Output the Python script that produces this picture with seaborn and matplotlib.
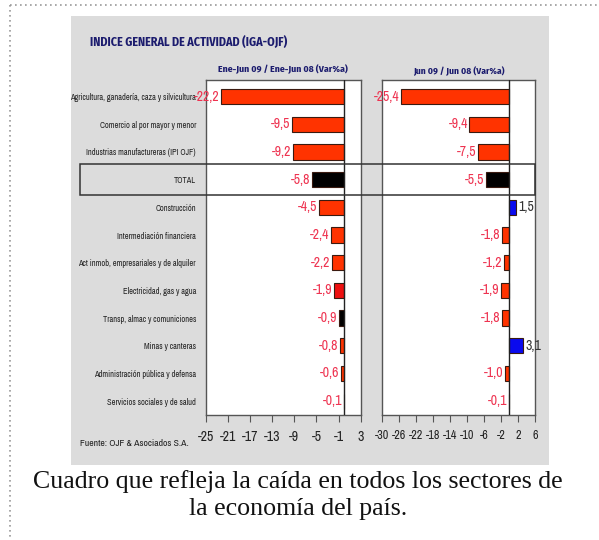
import matplotlib
matplotlib.use("Agg")
import matplotlib.pyplot as plt
import matplotlib.transforms as mtransforms
from matplotlib.patches import Rectangle
from matplotlib.lines import Line2D
import seaborn as sns
import pandas as pd

categories = [
    "Agricultura, ganadería, caza y silvicultura",
    "Comercio al por mayor y menor",
    "Industrias manufactureras (IPI OJF)",
    "TOTAL",
    "Construcción",
    "Intermediación financiera",
    "Act inmob, empresariales y de alquiler",
    "Electricidad, gas y agua",
    "Transp, almac y comuniciones",
    "Minas y canteras",
    "Administración pública y defensa",
    "Servicios sociales y de salud",
]
semester_values = [-22.2, -9.5, -9.2, -5.8, -4.5, -2.4, -2.2, -1.9, -0.9, -0.8, -0.6, -0.1]
june_values = [-25.4, -9.4, -7.5, -5.5, 1.5, -1.8, -1.2, -1.9, -1.8, 3.1, -1.0, -0.1]
left_ticks = [-25, -21, -17, -13, -9, -5, -1, 3]
right_ticks = [-30, -26, -22, -18, -14, -10, -6, -2, 2, 6]

title = "INDICE GENERAL DE ACTIVIDAD (IGA-OJF)"
left_subtitle = "Ene-Jun 09 / Ene-Jun 08 (Var%a)"
right_subtitle = "Jun 09 / Jun 08 (Var%a)"
source = "Fuente: OJF & Asociados S.A."
caption = "Cuadro que refleja la caída en todos los sectores de\nla economía del país."

ORANGE = "#FF3300"
RED = "#EE1010"
BLACK = "#000000"
BLUE = "#0A0AEE"
left_colors = [ORANGE, ORANGE, ORANGE, BLACK, ORANGE, ORANGE, ORANGE, RED, BLACK, ORANGE, ORANGE, ORANGE]
right_colors = [ORANGE, ORANGE, ORANGE, BLACK, BLUE, ORANGE, ORANGE, ORANGE, ORANGE, BLUE, ORANGE, BLACK]

NARROW = ["Archivo Narrow", "DejaVu Sans"]
BOLDCOND = ["Fira Sans Condensed", "DejaVu Sans"]
NAVY = "#1C1C6E"
LABEL_RED = "#EE3350"

sns.set_theme(style="white")
plt.rcParams["font.family"] = NARROW

W, H = 599, 540
fig = plt.figure(figsize=(W / 100, H / 100), dpi=100)
fig.patch.set_facecolor("white")

def fx(px):
    return px / W

def fy(py):
    return 1 - py / H

# dotted page border
fig.add_artist(Line2D([fx(10), fx(10)], [fy(5), 0], color="#9a9a9a", lw=1.2,
                      ls=(0, (1, 2)), transform=fig.transFigure))
fig.add_artist(Line2D([fx(10), 1], [fy(5), fy(5)], color="#9a9a9a", lw=1.2,
                      ls=(0, (1, 2)), transform=fig.transFigure))

# gray panel
fig.add_artist(Rectangle((fx(71), fy(465)), fx(549) - fx(71), fy(16) - fy(465),
                         transform=fig.transFigure, facecolor="#DCDCDC",
                         edgecolor="none", zorder=0))

axL = fig.add_axes([fx(205.7), fy(415), fx(360.7) - fx(205.7), fy(80) - fy(415)])
axR = fig.add_axes([fx(381.7), fy(415), fx(535) - fx(381.7), fy(80) - fy(415)])

dfL = pd.DataFrame({"sector": categories, "valor": semester_values})
dfR = pd.DataFrame({"sector": categories, "valor": june_values})

for ax, df, colors, lim, ticks, tsize in [
    (axL, dfL, left_colors, (-25, 3), left_ticks, 10.0),
    (axR, dfR, right_colors, (-30, 6), right_ticks, 8.7),
]:
    sns.barplot(data=df, x="valor", y="sector", hue="sector", palette=colors,
                legend=False, orient="h", width=0.55, edgecolor="#3a1a10",
                linewidth=0.8, saturation=1, ax=ax)
    ax.set_facecolor("white")
    ax.set_xlim(*lim)
    ax.set_ylim(11.5, -0.6)
    ax.set_xticks(ticks)
    ax.set_xticklabels([str(t) for t in ticks])
    ax.set_xlabel("")
    ax.set_ylabel("")
    ax.axvline(0, color="#222222", lw=1.0, zorder=3)
    for s in ax.spines.values():
        s.set_color("#555555")
        s.set_linewidth(1.0)
        s.set_visible(True)
    ax.tick_params(axis="x", direction="out", length=5, width=0.8, color="#555555",
                   bottom=True, labelsize=tsize, labelcolor="#222222", pad=6)
    ax.tick_params(axis="y", length=0)
    span = lim[1] - lim[0]
    for i, v in enumerate(df["valor"]):
        label = f"{v:.1f}".replace(".", ",")
        if v < 0:
            ax.text(v - span * 0.010, i, label, ha="right", va="center",
                    color=LABEL_RED, fontsize=10.0)
        else:
            ax.text(v + span * 0.018, i, label, ha="left", va="center",
                    color="#333333", fontsize=10.0)

axL.tick_params(axis="y", labelsize=6.0, labelcolor="#222222", pad=7)
axR.set_yticklabels([])

# TOTAL highlight box
trans = mtransforms.blended_transform_factory(fig.transFigure, axL.transData)
fig.add_artist(Rectangle((fx(80), 2.45), fx(535) - fx(80), 1.1, transform=trans,
                         facecolor="none", edgecolor="#333333", lw=1.1, zorder=10))

fig.text(fx(90), fy(42), title, color=NAVY, fontsize=8.7, fontweight="bold",
         family=BOLDCOND, ha="left", va="center")
fig.text(fx(283), fy(69), left_subtitle, color=NAVY, fontsize=7.0, fontweight="bold",
         family=BOLDCOND, ha="center", va="center")
fig.text(fx(459), fy(71), right_subtitle, color=NAVY, fontsize=6.8, fontweight="bold",
         family=BOLDCOND, ha="center", va="center")
fig.text(fx(80), fy(443), source, color="#222222", fontsize=7.0, ha="left", va="center")

fig.text(0.497, fy(495), caption, family=["Liberation Serif", "DejaVu Serif"],
         fontsize=18.6, color="#111111", ha="center", va="center", linespacing=1.28)

fig.savefig("out.png", dpi=100, facecolor="white")
